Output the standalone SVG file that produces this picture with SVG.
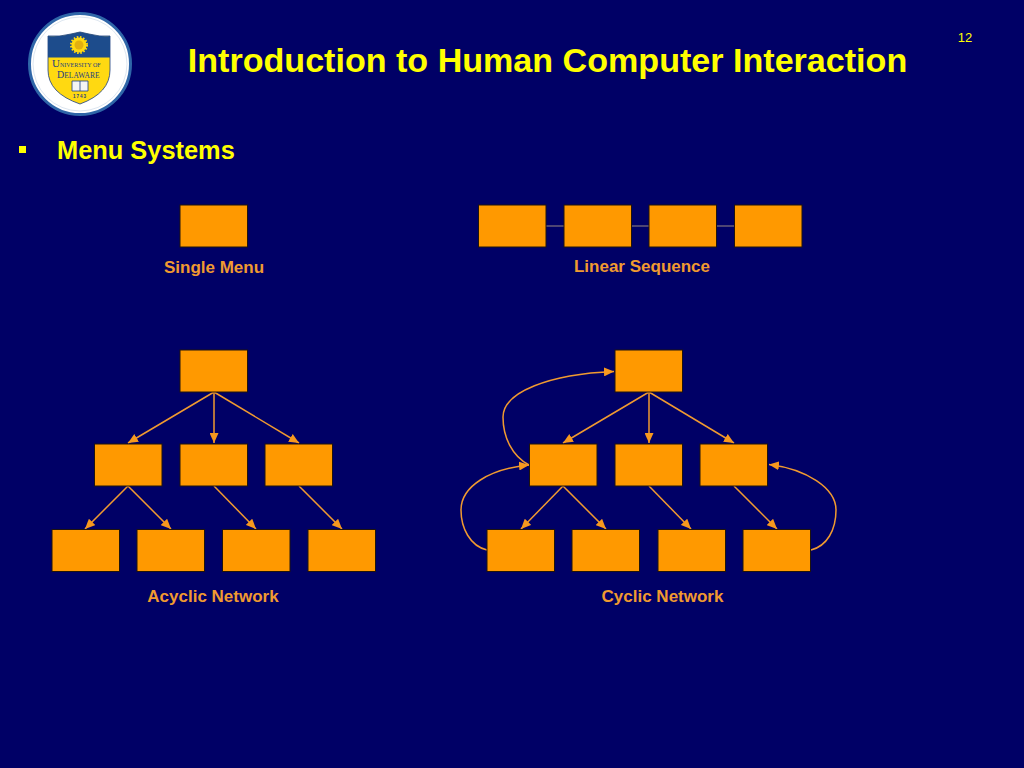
<svg xmlns="http://www.w3.org/2000/svg" width="1024" height="768" viewBox="0 0 1024 768">
<style>
.box{fill:#FF9900;stroke:#20140c;stroke-width:1}
.c{fill:none;stroke:#F09A30;stroke-width:1.500}
.l{fill:none;stroke:#9a8a80;stroke-width:1.200}
.lab{font-family:"Liberation Sans",Arial,sans-serif;font-size:17px;font-weight:bold;fill:#F09A30;text-anchor:middle}
.head{fill:#F7991E;stroke:none}
.ser{font-family:"Liberation Serif",serif;fill:#1D3F80}
text{font-family:"Liberation Sans",Arial,sans-serif}
</style>
<defs>
<marker id="a" markerUnits="userSpaceOnUse" markerWidth="11" markerHeight="9" refX="10" refY="4.500" orient="auto"><path class="head" d="M0 0L10 4.500L0 9Z"/></marker>
<rect id="b" class="box" width="67.500" height="42"/>
</defs>
<rect width="1024" height="768" fill="#000066"/>
<g id="logo">
<circle cx="80" cy="64" r="50.500" fill="#FFFFFF" stroke="#2F66A8" stroke-width="3"/>
<circle cx="80" cy="64" r="47" fill="none" stroke="#DDE6F0" stroke-width="1"/>
<path d="M48 36Q60 37 71 34L80 32L89 34Q100 37 110 36V70Q110 93 80 104Q48 93 48 70Z" fill="#FFD911" stroke="#1D3F80" stroke-width="0.800"/>
<path d="M48 36Q60 37 71 34L80 32L89 34Q100 37 110 36V57.500H48Z" fill="#1D4C8C"/>
<circle cx="79" cy="45" r="7.500" fill="#FFD911" stroke="#FFD911" stroke-width="3" stroke-dasharray="1.500 1.500"/>
<circle cx="79" cy="45" r="4.500" fill="#E2B010"/>
<text class="ser" x="52" y="67" font-size="11">U<tspan font-size="6">NIVERSITY OF</tspan></text>
<text class="ser" x="57" y="78" font-size="10">D<tspan font-size="7.500">ELAWARE</tspan></text>
<path d="M72 81H88V91H72Z" fill="#F4F4F4" stroke="#1D3F80" stroke-width="0.800"/>
<path d="M80 81V91" stroke="#1D3F80" stroke-width="0.800"/>
<text x="80" y="98" font-size="4.500" font-weight="bold" letter-spacing="1" text-anchor="middle" fill="#1D3F80">1743</text>
</g>
<g id="header">
<text x="547.500" y="72" font-size="34.100" font-weight="bold" fill="#FFFF00" text-anchor="middle">Introduction to Human Computer Interaction</text>
<text x="965" y="42" font-size="13" fill="#FFFF00" text-anchor="middle">12</text>
<rect x="19" y="146" width="7" height="7" fill="#FFFF00"/>
<text x="57" y="159" font-size="25.400" font-weight="bold" fill="#FFFF00">Menu Systems</text>
</g>
<g id="connectors">
<path class="l" d="M546 226H564M631 226H649M716 226H735"/>
<path class="c" marker-end="url(#a)" d="M214 392L128 443"/>
<path class="c" marker-end="url(#a)" d="M214 392V443"/>
<path class="c" marker-end="url(#a)" d="M214 392L299 443"/>
<path class="c" marker-end="url(#a)" d="M128 486L85 529"/>
<path class="c" marker-end="url(#a)" d="M128 486L171 529"/>
<path class="c" marker-end="url(#a)" d="M214 486L256 529"/>
<path class="c" marker-end="url(#a)" d="M299 486L342 529"/>
<path class="c" marker-end="url(#a)" d="M649 392L563 443"/>
<path class="c" marker-end="url(#a)" d="M649 392V443"/>
<path class="c" marker-end="url(#a)" d="M649 392L734 443"/>
<path class="c" marker-end="url(#a)" d="M563 486L521 529"/>
<path class="c" marker-end="url(#a)" d="M563 486L606 529"/>
<path class="c" marker-end="url(#a)" d="M649 486L691 529"/>
<path class="c" marker-end="url(#a)" d="M734 486L777 529"/>
<path class="c" marker-end="url(#a)" d="M529 465C512 456 503 437 503 417C503 392 550 374 614 371.500"/>
<path class="c" marker-end="url(#a)" d="M487 550C470 546 461 528 461 510C461 486 490 469 529 465"/>
<path class="c" marker-end="url(#a)" d="M811 550C827 546 836 530 836 510C836 488 806 469 769 464.500"/>
</g>
<g id="node-single"><use href="#b" x="180" y="205"/></g>
<g id="node-linear-1"><use href="#b" x="478.500" y="205"/></g>
<g id="node-linear-2"><use href="#b" x="564" y="205"/></g>
<g id="node-linear-3"><use href="#b" x="649" y="205"/></g>
<g id="node-linear-4"><use href="#b" x="734.500" y="205"/></g>
<g id="node-acyclic-top"><use href="#b" x="180" y="350"/></g>
<g id="node-acyclic-m1"><use href="#b" x="94.500" y="444"/></g>
<g id="node-acyclic-m2"><use href="#b" x="180" y="444"/></g>
<g id="node-acyclic-m3"><use href="#b" x="265" y="444"/></g>
<g id="node-acyclic-b1"><use href="#b" x="52" y="529.500"/></g>
<g id="node-acyclic-b2"><use href="#b" x="137" y="529.500"/></g>
<g id="node-acyclic-b3"><use href="#b" x="222.500" y="529.500"/></g>
<g id="node-acyclic-b4"><use href="#b" x="308" y="529.500"/></g>
<g id="node-cyclic-top"><use href="#b" x="615" y="350"/></g>
<g id="node-cyclic-m1"><use href="#b" x="529.500" y="444"/></g>
<g id="node-cyclic-m2"><use href="#b" x="615" y="444"/></g>
<g id="node-cyclic-m3"><use href="#b" x="700" y="444"/></g>
<g id="node-cyclic-b1"><use href="#b" x="487" y="529.500"/></g>
<g id="node-cyclic-b2"><use href="#b" x="572" y="529.500"/></g>
<g id="node-cyclic-b3"><use href="#b" x="658" y="529.500"/></g>
<g id="node-cyclic-b4"><use href="#b" x="743" y="529.500"/></g>
<g id="labels">
<text class="lab" x="214" y="273">Single Menu</text>
<text class="lab" x="642" y="272">Linear Sequence</text>
<text class="lab" x="213" y="602">Acyclic Network</text>
<text class="lab" x="662.500" y="602">Cyclic Network</text>
</g>
</svg>
